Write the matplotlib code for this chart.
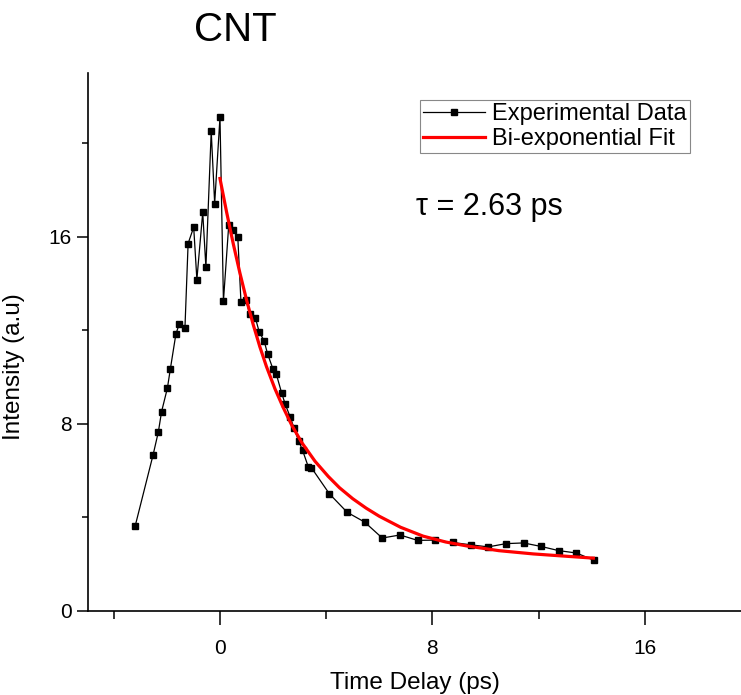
import matplotlib
matplotlib.use("Agg")
import matplotlib.pyplot as plt

plt.rcParams["font.family"] = ["Liberation Sans", "DejaVu Sans"]

# experimental transient (time delay in ps, intensity in a.u.)
time_exp = [-3.19, -2.52, -2.32, -2.20, -1.98, -1.87, -1.66, -1.53, -1.32, -1.20,
            -0.99, -0.87, -0.65, -0.53, -0.33, -0.20, 0.0, 0.13, 0.33, 0.48,
            0.67, 0.79, 0.98, 1.12, 1.33, 1.48, 1.66, 1.79, 2.0, 2.12,
            2.32, 2.46, 2.65, 2.79, 2.97, 3.11, 3.33, 3.44, 4.12, 4.79,
            5.45, 6.11, 6.78, 7.44, 8.09, 8.76, 9.44, 10.10, 10.77, 11.43,
            12.09, 12.76, 13.42, 14.08]
intensity_exp = [3.65, 6.67, 7.66, 8.52, 9.53, 10.34, 11.84, 12.28, 12.08, 15.71,
                 16.41, 14.17, 17.04, 14.70, 20.51, 17.42, 21.11, 13.25, 16.51, 16.28,
                 16.0, 13.21, 13.29, 12.71, 12.54, 11.92, 11.56, 11.0, 10.33, 10.13,
                 9.33, 8.83, 8.28, 7.81, 7.25, 6.87, 6.15, 6.13, 5.01, 4.22,
                 3.80, 3.12, 3.25, 3.02, 3.03, 2.93, 2.83, 2.74, 2.88, 2.91,
                 2.76, 2.58, 2.48, 2.17]

# bi-exponential fit curve
time_fit = [0.0, 0.25, 0.5, 0.75, 1.0, 1.25, 1.5, 1.75, 2.07, 2.38,
            2.7, 3.08, 3.58, 4.08, 4.5, 5.0, 5.5, 6.0, 6.8, 7.65,
            8.5, 9.3, 10.5, 11.8, 13.05, 14.06]
intensity_fit = [18.49, 17.05, 15.7, 14.45, 13.3, 12.25, 11.3, 10.45, 9.5, 8.7,
                 7.95, 7.2, 6.4, 5.75, 5.27, 4.8, 4.4, 4.05, 3.58, 3.2,
                 2.95, 2.78, 2.58, 2.44, 2.34, 2.26]

fig = plt.figure(figsize=(7.41, 6.95), dpi=100)
ax = fig.add_axes([88 / 741, 84 / 695, 653 / 741, 538 / 695])

ax.plot(time_exp, intensity_exp, color="black", lw=0.9, marker="s",
        markersize=5, label="Experimental Data")
ax.plot(time_fit, intensity_fit, color="red", lw=2.3, label="Bi-exponential Fit")

ax.set_xlim(-4.97, 19.62)
ax.set_ylim(0, 23)
ax.set_xticks([0, 8, 16])
ax.set_xticks([-4, 4, 12], minor=True)
ax.set_yticks([0, 8, 16])
ax.set_yticks([4, 12, 20], minor=True)

for side in ["top", "right"]:
    ax.spines[side].set_visible(False)
for side in ["left", "bottom"]:
    ax.spines[side].set_linewidth(1.2)

ax.tick_params(axis="both", which="major", labelsize=15, width=1.1, direction="out")
ax.tick_params(axis="x", which="major", length=10)
ax.tick_params(axis="y", which="major", length=8)
ax.tick_params(axis="x", which="minor", length=5.5, width=1.1)
ax.tick_params(axis="y", which="minor", length=4.5, width=1.1)
ax.tick_params(axis="x", pad=10)

ax.set_xlabel("Time Delay (ps)", fontsize=17.5, labelpad=10)
ax.set_ylabel("Intensity (a.u)", fontsize=17.5)
ax.yaxis.set_label_coords(-0.097, 0.455)

leg = ax.legend(loc="upper right", bbox_to_anchor=(0.922, 0.95), borderaxespad=0,
                fontsize=17, fancybox=False, framealpha=1, edgecolor="#888888",
                handlelength=2.6, handletextpad=0.3, borderpad=0.15,
                labelspacing=0.1)
leg.get_frame().set_linewidth(0.8)

ax.text(0.502, 0.751, "τ = 2.63 ps", transform=ax.transAxes, fontsize=22,
        ha="left", va="center")

fig.text(235 / 741, 1 - 30 / 695, "CNT", fontsize=29, ha="center", va="center")

fig.savefig("out.png", dpi=100)
